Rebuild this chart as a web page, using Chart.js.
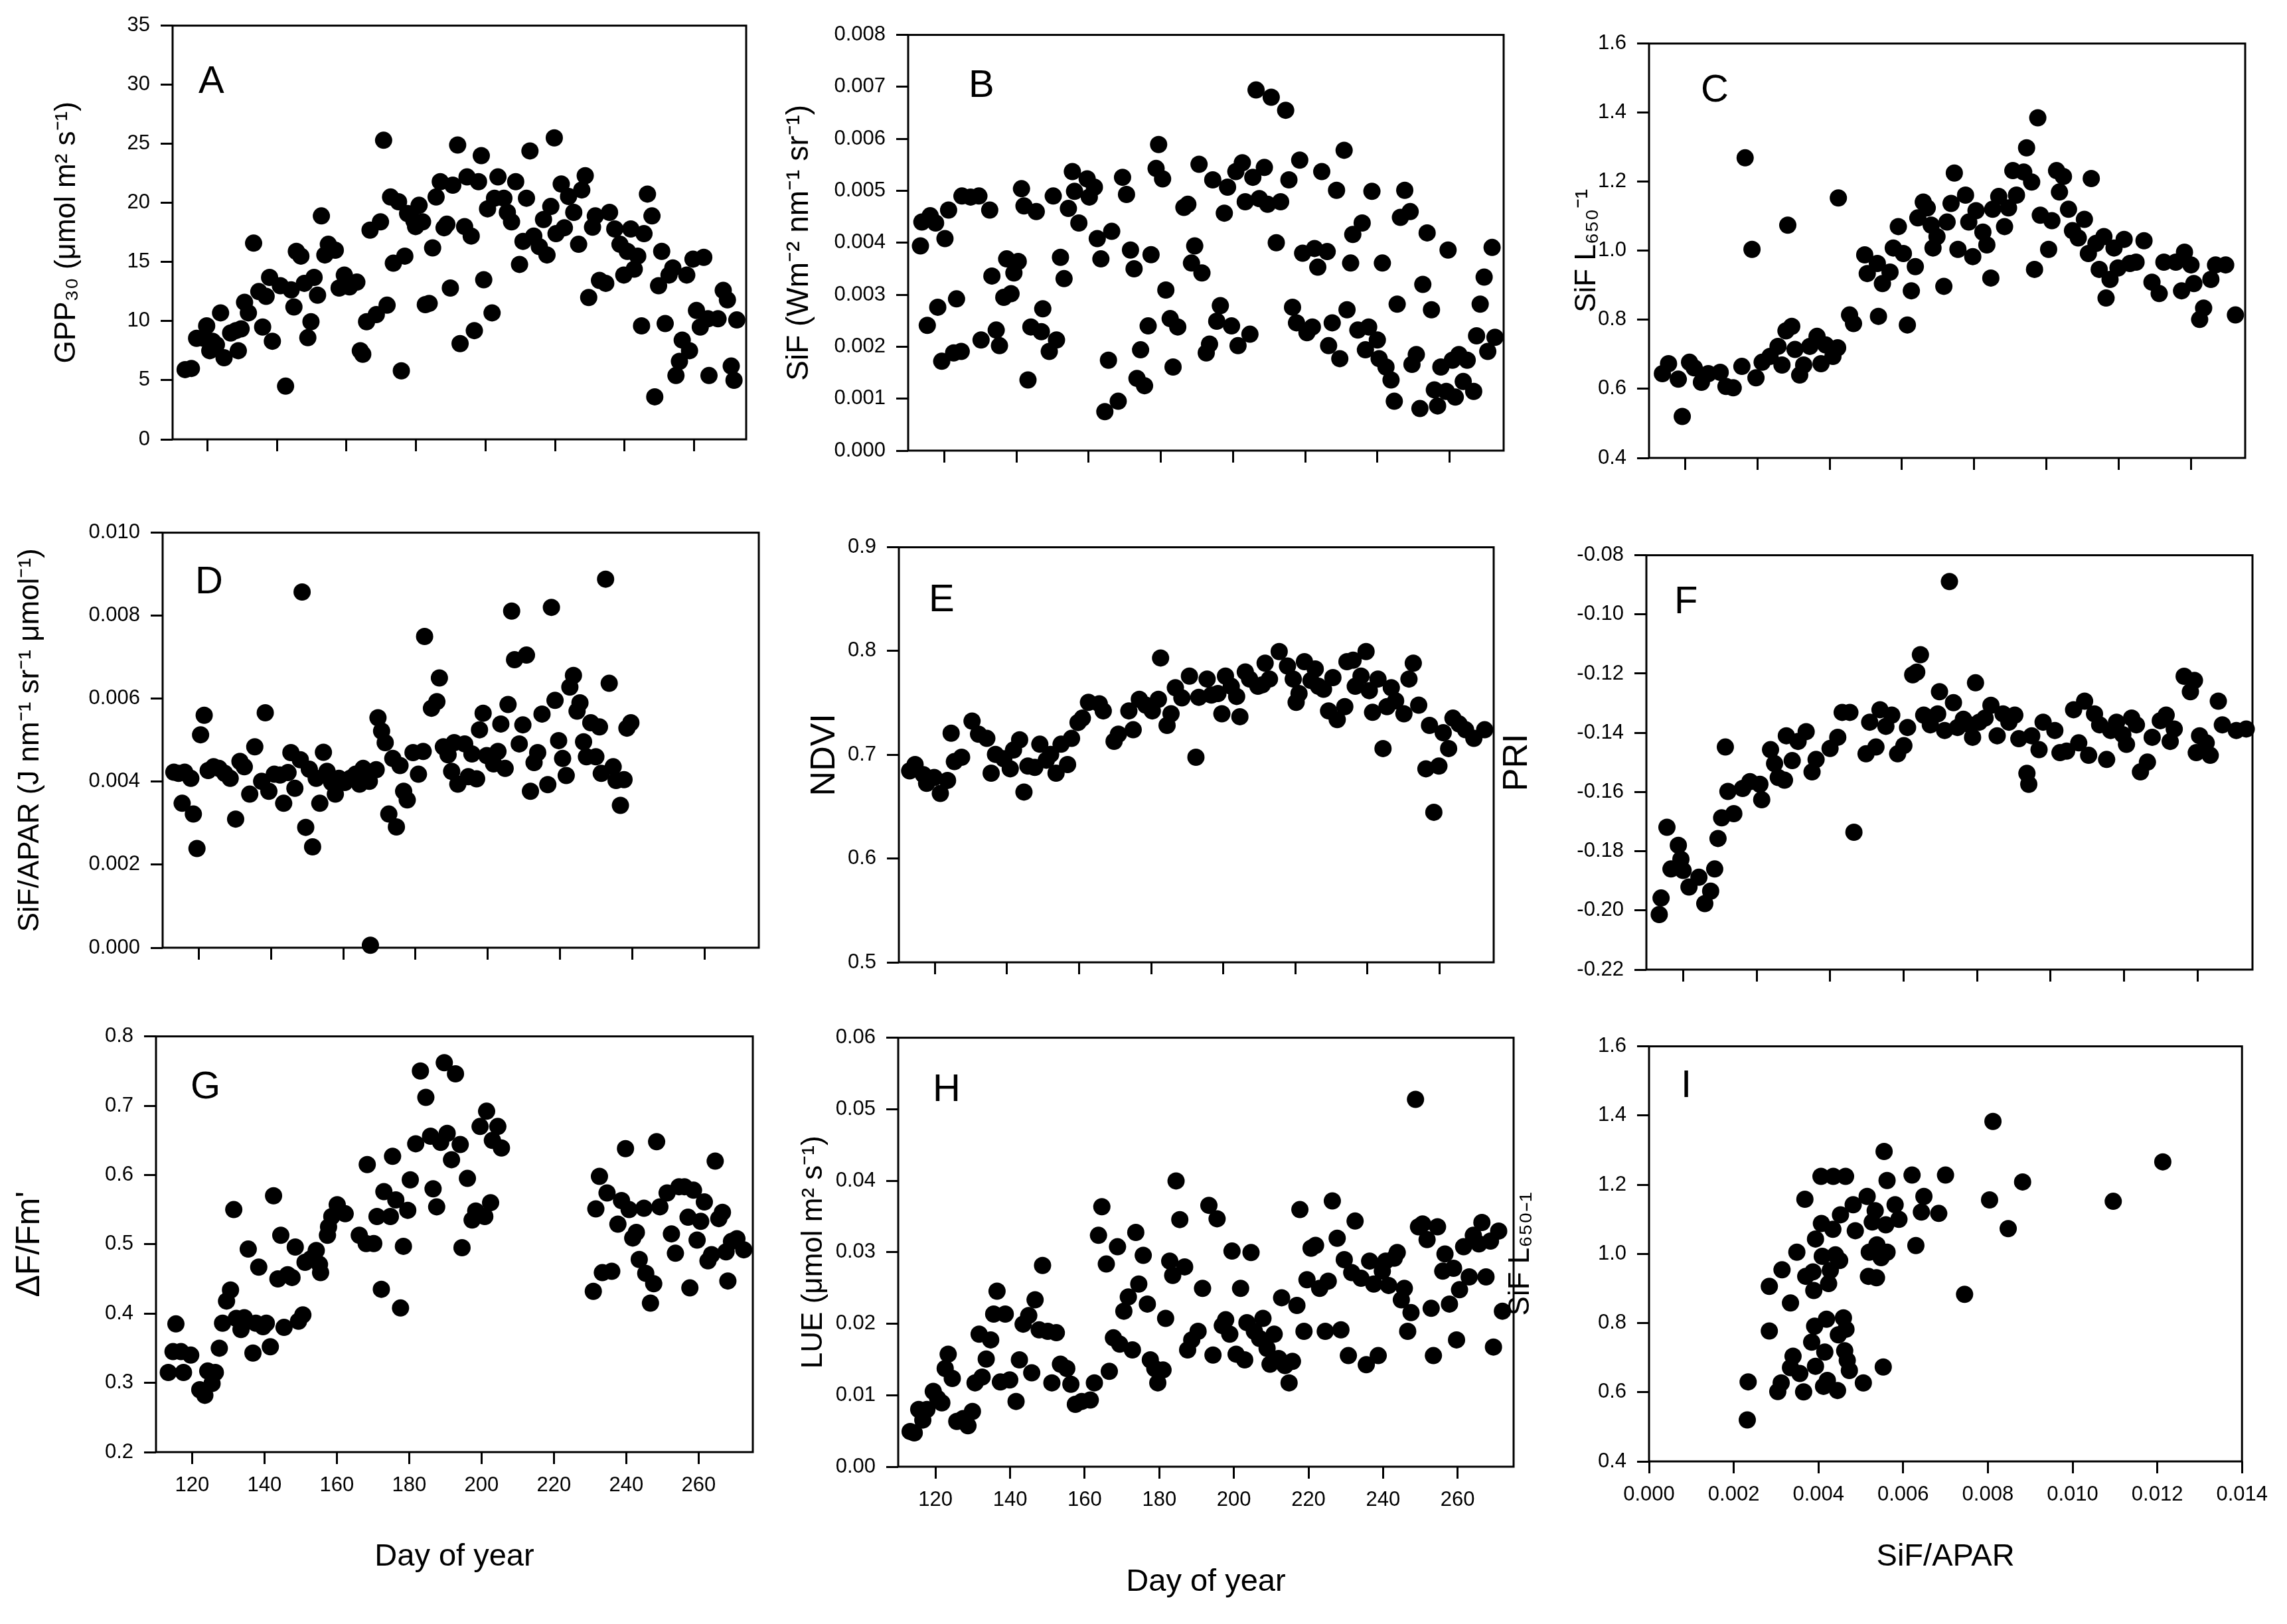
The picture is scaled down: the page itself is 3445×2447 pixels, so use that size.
<!DOCTYPE html>
<html>
<head>
<meta charset="utf-8">
<title>Seasonal SiF panels</title>
<script src="https://cdn.jsdelivr.net/npm/chart.js@4.4.1/dist/chart.umd.min.js"></script>
<style>
  html, body { margin: 0; padding: 0; background: #fff; }
  #page { position: relative; width: 3445px; height: 2447px; overflow: hidden; background: #fff; }
  #page canvas { position: absolute; }
</style>
</head>
<body>
<div id="page"></div>
<script>
// ── Data: [day of year, value] pairs ─────────────────────────────────

const gppA = [[113.6,5.9],[115.4,6.0],[116.9,8.55],[119.8,9.6],[119.0,8.55],[121.5,8.3],[122.6,8.0],[120.7,7.5],[123.8,10.7],[124.8,6.9],[126.7,9.0],[128.2,9.2],[128.9,7.5],[129.7,9.35],[130.7,11.6],[131.8,10.7],[133.3,16.6],[134.8,12.5],[135.9,9.5],[136.9,12.1],[137.9,13.7],[138.7,8.3],[141.0,13.0],[142.5,4.5],[144.1,12.65],[144.9,11.2],[145.6,15.9],[146.9,15.5],[147.9,13.2],[148.9,8.6],[149.8,9.95],[150.7,13.7],[151.7,12.2],[152.8,18.9],[153.8,15.6],[154.8,16.5],[156.8,16.0],[157.9,12.8],[159.4,13.9],[160.9,12.9],[163.0,13.3],[164.0,7.5],[164.7,7.2],[165.8,9.95],[166.8,17.7],[168.6,10.55],[169.8,18.4],[170.7,25.3],[171.7,11.35],[172.7,20.5],[173.5,14.9],[175.0,20.1],[175.8,5.8],[176.8,15.5],[177.6,19.1],[179.4,18.5],[179.9,18.0],[180.9,19.8],[181.9,18.4],[182.7,11.4],[183.8,11.5],[184.8,16.2],[185.8,20.5],[187.0,21.8],[188.1,17.9],[188.9,18.2],[189.9,12.8],[190.6,21.5],[192.0,24.9],[192.7,8.1],[194.0,18.0],[194.7,22.2],[195.9,17.2],[196.8,9.2],[198.0,21.8],[198.8,24.0],[199.5,13.5],[200.6,19.5],[201.9,10.7],[202.6,20.4],[203.6,22.2],[205.3,20.4],[206.3,19.2],[207.5,18.4],[208.7,21.8],[209.8,14.8],[210.8,16.75],[211.8,20.4],[212.8,24.4],[213.9,17.2],[215.5,16.3],[216.7,18.6],[217.7,15.6],[218.8,19.7],[219.8,25.5],[220.3,17.4],[221.8,21.6],[222.7,17.9],[223.9,20.55],[225.4,19.2],[226.8,16.5],[227.7,21.1],[228.7,22.3],[229.7,12.0],[230.8,17.95],[231.6,18.9],[232.8,13.45],[234.6,13.2],[235.7,19.2],[237.2,17.8],[238.7,16.5],[239.8,13.9],[240.8,15.9],[241.8,17.8],[242.8,14.4],[243.8,15.5],[244.9,9.6],[245.6,17.4],[246.6,20.75],[247.9,18.9],[248.7,3.6],[249.8,13.0],[250.7,15.9],[251.7,9.8],[252.8,13.9],[253.9,14.5],[254.8,5.4],[255.8,6.6],[256.6,8.4],[257.9,13.9],[258.7,7.5],[259.7,15.25],[260.7,10.9],[261.8,9.5],[262.8,15.4],[264.3,5.4],[264.0,10.2],[266.9,10.2],[268.4,12.6],[269.6,11.8],[272.3,10.1],[270.7,6.2],[271.5,5.0]];

const sifB = [[113.4,0.00394],[113.8,0.00440],[116.1,0.00452],[117.6,0.00438],[115.3,0.00241],[118.2,0.00276],[119.3,0.00172],[120.2,0.00408],[121.2,0.00463],[122.6,0.00188],[123.4,0.00292],[124.7,0.00191],[124.9,0.00490],[127.3,0.00488],[129.6,0.00490],[132.6,0.00463],[130.2,0.00213],[133.2,0.00336],[134.4,0.00232],[135.3,0.00202],[136.5,0.00295],[137.3,0.00369],[138.5,0.00302],[139.3,0.00342],[140.5,0.00364],[141.4,0.00504],[142.1,0.00471],[143.2,0.00136],[144.0,0.00238],[145.5,0.00460],[146.9,0.00229],[147.3,0.00273],[149.1,0.00191],[151.1,0.00213],[150.2,0.00490],[152.2,0.00372],[153.2,0.00331],[154.4,0.00466],[155.5,0.00537],[156.1,0.00499],[157.3,0.00438],[159.6,0.00523],[160.2,0.00488],[161.6,0.00507],[162.4,0.00408],[163.4,0.00369],[166.4,0.00422],[164.5,0.00075],[165.5,0.00174],[168.2,0.00095],[169.4,0.00526],[170.5,0.00493],[171.6,0.00386],[172.6,0.00350],[173.4,0.00139],[174.4,0.00194],[175.5,0.00125],[176.5,0.00240],[177.3,0.00377],[178.7,0.00543],[179.4,0.00589],[180.5,0.00523],[181.4,0.00309],[182.6,0.00254],[183.4,0.00161],[184.7,0.00238],[186.4,0.00468],[187.5,0.00474],[188.5,0.00361],[189.4,0.00394],[190.6,0.00551],[191.4,0.00342],[192.6,0.00188],[193.5,0.00205],[194.4,0.00521],[195.5,0.00249],[196.5,0.00279],[197.6,0.00457],[198.5,0.00507],[199.6,0.00240],[200.8,0.00537],[201.4,0.00202],[202.6,0.00554],[203.4,0.00479],[204.7,0.00224],[205.5,0.00526],[206.4,0.00694],[207.3,0.00485],[208.7,0.00545],[209.6,0.00474],[210.6,0.00680],[212.0,0.00400],[213.2,0.00479],[214.6,0.00655],[215.5,0.00521],[216.5,0.00276],[217.6,0.00246],[218.5,0.00559],[219.3,0.00380],[220.5,0.00227],[222.0,0.00238],[222.6,0.00389],[223.5,0.00353],[224.6,0.00537],[226.1,0.00383],[226.5,0.00202],[227.5,0.00246],[228.7,0.00501],[229.6,0.00177],[230.8,0.00578],[231.6,0.00271],[232.6,0.00361],[233.2,0.00416],[234.6,0.00232],[235.8,0.00438],[236.7,0.00194],[237.6,0.00238],[238.5,0.00499],[240.0,0.00213],[240.5,0.00177],[241.4,0.00361],[242.4,0.00161],[243.8,0.00136],[244.7,0.00095],[245.5,0.00282],[246.4,0.00449],[247.6,0.00501],[249.1,0.00460],[249.6,0.00166],[250.8,0.00185],[251.8,0.00081],[252.6,0.00320],[253.8,0.00419],[255.0,0.00271],[255.8,0.00117],[256.7,0.00086],[257.6,0.00161],[259.1,0.00114],[259.6,0.00386],[260.8,0.00174],[261.6,0.00103],[262.6,0.00185],[263.8,0.00133],[264.9,0.00174],[266.7,0.00114],[267.5,0.00221],[268.5,0.00282],[269.6,0.00334],[270.6,0.00191],[271.8,0.00391],[272.6,0.00218]];

const sifLC = [[113.7,0.644],[115.4,0.673],[118.1,0.628],[119.2,0.520],[121.2,0.677],[122.5,0.661],[124.5,0.619],[126.4,0.644],[129.7,0.648],[131.3,0.607],[133.3,0.603],[135.7,0.665],[136.6,1.269],[138.5,1.004],[139.6,0.632],[141.3,0.677],[143.5,0.694],[145.7,0.723],[146.8,0.669],[147.9,0.768],[149.5,0.781],[148.4,1.074],[150.4,0.714],[151.7,0.640],[152.8,0.669],[154.5,0.723],[156.5,0.752],[157.6,0.673],[158.9,0.727],[160.9,0.694],[162.2,0.719],[162.4,1.153],[165.5,0.814],[166.6,0.789],[169.7,0.988],[170.4,0.934],[173.2,0.963],[173.5,0.810],[174.6,0.905],[176.7,0.938],[177.6,1.008],[179.0,1.070],[180.4,0.992],[181.5,0.785],[182.6,0.884],[183.7,0.954],[184.4,1.095],[185.9,1.141],[187.0,1.124],[188.1,1.074],[188.6,1.008],[189.7,1.041],[191.6,0.897],[192.5,1.083],[193.6,1.137],[194.5,1.225],[195.5,1.004],[197.6,1.161],[198.5,1.083],[199.6,0.983],[200.5,1.116],[202.4,1.054],[203.5,1.017],[204.6,0.921],[205.1,1.120],[206.8,1.157],[208.4,1.070],[209.5,1.124],[210.7,1.232],[211.7,1.161],[213.7,1.228],[214.5,1.298],[215.9,1.199],[216.7,0.946],[217.6,1.385],[218.3,1.103],[220.6,1.004],[221.5,1.087],[222.8,1.232],[223.6,1.170],[224.7,1.215],[226.1,1.120],[227.2,1.058],[228.8,1.037],[230.5,1.091],[231.6,0.992],[232.4,1.209],[233.7,1.021],[234.6,0.946],[235.9,1.041],[236.5,0.863],[237.6,0.917],[238.7,1.008],[239.8,0.950],[241.5,1.033],[243.1,0.963],[244.8,0.967],[247.0,1.029],[249.2,0.909],[251.2,0.876],[252.5,0.967],[255.8,0.967],[257.4,0.884],[258.2,0.996],[260.0,0.959],[260.8,0.905],[262.4,0.801],[263.5,0.834],[265.5,0.917],[266.8,0.959],[269.6,0.959],[272.3,0.814]];

const sifApD = [[113.1,0.00423],[114.4,0.00420],[116.1,0.00423],[117.8,0.00408],[115.4,0.00348],[118.5,0.00322],[119.5,0.00239],[120.5,0.00513],[121.5,0.00560],[122.6,0.00427],[124.1,0.00436],[125.6,0.00432],[127.2,0.00420],[128.7,0.00408],[130.2,0.00310],[131.4,0.00449],[132.6,0.00436],[134.1,0.00370],[135.5,0.00484],[137.4,0.00401],[138.4,0.00566],[139.4,0.00377],[140.9,0.00418],[142.5,0.00416],[143.5,0.00348],[144.7,0.00422],[145.5,0.00470],[146.6,0.00384],[148.1,0.00453],[148.6,0.00857],[149.6,0.00290],[150.6,0.00430],[151.5,0.00243],[152.5,0.00408],[153.5,0.00348],[154.5,0.00471],[155.5,0.00425],[156.8,0.00398],[157.8,0.00370],[158.8,0.00408],[160.4,0.00398],[161.9,0.00408],[163.4,0.00418],[164.5,0.00394],[165.5,0.00432],[167.5,0.00006],[167.2,0.00401],[169.1,0.00429],[169.6,0.00554],[170.6,0.00522],[171.6,0.00494],[172.6,0.00322],[173.7,0.00456],[174.7,0.00291],[175.7,0.00439],[176.7,0.00377],[177.7,0.00356],[179.3,0.00470],[180.8,0.00418],[182.1,0.00473],[182.5,0.00750],[184.4,0.00577],[185.9,0.00593],[186.6,0.00650],[187.7,0.00484],[189.0,0.00465],[190.0,0.00425],[190.7,0.00494],[191.7,0.00394],[193.6,0.00491],[194.6,0.00412],[195.6,0.00467],[196.9,0.00407],[197.7,0.00525],[198.7,0.00565],[199.7,0.00463],[201.6,0.00443],[202.8,0.00473],[203.6,0.00539],[204.8,0.00432],[205.6,0.00586],[206.6,0.00811],[207.4,0.00694],[208.7,0.00491],[209.7,0.00537],[210.7,0.00705],[211.8,0.00377],[212.8,0.00446],[213.8,0.00470],[215.0,0.00563],[216.6,0.00393],[217.6,0.00820],[218.6,0.00596],[219.6,0.00499],[220.7,0.00456],[221.7,0.00415],[222.7,0.00628],[223.7,0.00656],[224.7,0.00570],[225.5,0.00590],[226.5,0.00496],[227.3,0.00460],[228.5,0.00542],[229.9,0.00460],[230.9,0.00532],[231.4,0.00420],[232.6,0.00888],[233.6,0.00637],[234.7,0.00436],[235.5,0.00403],[236.7,0.00343],[237.7,0.00405],[238.5,0.00529],[239.6,0.00542]];

const ndviE = [[113.0,0.6845],[114.5,0.6906],[116.8,0.6809],[117.7,0.6725],[119.8,0.6781],[121.5,0.6627],[123.5,0.6753],[124.5,0.7208],[125.4,0.6934],[127.4,0.6976],[130.3,0.7325],[132.1,0.7199],[134.4,0.7158],[135.6,0.6823],[136.8,0.7004],[139.1,0.6962],[140.9,0.6865],[141.8,0.7046],[143.5,0.7144],[144.7,0.6641],[145.8,0.6892],[147.7,0.6878],[149.1,0.7102],[150.9,0.6948],[152.1,0.7004],[153.6,0.6823],[155.0,0.7102],[156.8,0.6906],[157.9,0.7158],[159.7,0.7311],[160.9,0.7353],[162.6,0.7506],[165.6,0.7492],[166.7,0.7423],[169.7,0.7130],[170.9,0.7199],[173.8,0.7423],[175.0,0.7241],[176.7,0.7534],[178.5,0.7478],[180.3,0.7423],[182.0,0.7534],[182.6,0.7933],[184.4,0.7283],[185.5,0.7395],[186.7,0.7646],[188.5,0.7548],[190.6,0.7758],[192.4,0.6976],[193.2,0.7554],[195.5,0.7730],[196.7,0.7576],[198.5,0.7590],[199.6,0.7395],[200.6,0.7758],[202.2,0.7660],[203.7,0.7562],[204.6,0.7367],[206.1,0.7799],[207.3,0.7730],[209.6,0.7660],[210.8,0.7674],[211.6,0.7883],[212.8,0.7730],[215.5,0.7995],[217.8,0.7855],[219.4,0.7730],[220.2,0.7506],[221.0,0.7590],[222.5,0.7897],[224.3,0.7716],[225.5,0.7827],[226.4,0.7660],[227.8,0.7632],[229.2,0.7423],[230.4,0.7744],[231.6,0.7339],[233.7,0.7464],[234.3,0.7897],[236.0,0.7911],[236.6,0.7660],[238.2,0.7758],[239.6,0.7995],[240.5,0.7618],[241.4,0.7409],[242.9,0.7730],[244.3,0.7060],[245.4,0.7464],[246.6,0.7646],[247.8,0.7520],[250.1,0.7395],[251.5,0.7730],[252.7,0.7883],[254.2,0.7478],[256.2,0.6865],[257.2,0.7283],[258.4,0.6446],[259.8,0.6892],[261.0,0.7213],[262.5,0.7060],[263.7,0.7353],[265.4,0.7297],[267.2,0.7241],[269.5,0.7158],[272.5,0.7241]];

const priF = [[113.5,-0.2014],[114.0,-0.1958],[115.6,-0.1719],[118.7,-0.1780],[116.7,-0.1860],[119.4,-0.1827],[120.0,-0.1865],[121.6,-0.1921],[124.3,-0.1888],[125.9,-0.1977],[127.5,-0.1935],[128.6,-0.1860],[129.5,-0.1757],[130.5,-0.1687],[131.5,-0.1448],[132.2,-0.1598],[133.8,-0.1673],[136.2,-0.1588],[138.2,-0.1565],[140.9,-0.1574],[141.4,-0.1626],[143.8,-0.1457],[144.9,-0.1504],[145.9,-0.1551],[147.6,-0.1560],[148.1,-0.1410],[149.7,-0.1494],[151.3,-0.1429],[153.5,-0.1396],[155.1,-0.1532],[156.2,-0.1490],[160.0,-0.1453],[162.1,-0.1415],[163.3,-0.1331],[165.4,-0.1331],[166.5,-0.1736],[169.8,-0.1471],[170.8,-0.1364],[172.5,-0.1448],[173.6,-0.1322],[175.2,-0.1378],[176.8,-0.1340],[178.4,-0.1471],[180.1,-0.1443],[181.1,-0.1382],[182.5,-0.1204],[183.6,-0.1195],[184.6,-0.1136],[185.5,-0.1340],[187.3,-0.1373],[189.3,-0.1336],[189.8,-0.1261],[191.2,-0.1392],[192.5,-0.0889],[193.6,-0.1298],[194.7,-0.1382],[196.3,-0.1354],[198.1,-0.1373],[198.8,-0.1415],[199.6,-0.1231],[200.6,-0.1364],[202.2,-0.1350],[203.8,-0.1307],[205.5,-0.1410],[207.1,-0.1336],[208.7,-0.1364],[210.3,-0.1340],[211.4,-0.1420],[213.6,-0.1537],[214.1,-0.1574],[214.9,-0.1410],[216.9,-0.1457],[218.0,-0.1364],[221.2,-0.1392],[222.6,-0.1467],[224.4,-0.1462],[226.3,-0.1322],[227.7,-0.1434],[229.3,-0.1293],[230.4,-0.1476],[232.0,-0.1336],[233.4,-0.1373],[235.3,-0.1490],[236.4,-0.1392],[238.0,-0.1364],[239.7,-0.1406],[240.7,-0.1439],[242.1,-0.1350],[243.4,-0.1373],[244.5,-0.1532],[246.4,-0.1499],[247.7,-0.1415],[249.9,-0.1359],[251.5,-0.1340],[252.6,-0.1429],[253.7,-0.1387],[256.4,-0.1209],[258.1,-0.1261],[259.2,-0.1223],[259.7,-0.1467],[260.6,-0.1410],[262.4,-0.1434],[263.5,-0.1476],[265.7,-0.1293],[266.8,-0.1373],[270.6,-0.1392],[273.3,-0.1387]];

const phiG = [[113.4,0.315],[114.7,0.345],[115.5,0.385],[116.9,0.345],[117.6,0.315],[119.6,0.340],[122.1,0.290],[123.5,0.282],[124.3,0.317],[125.5,0.299],[126.4,0.315],[127.5,0.350],[128.4,0.386],[129.5,0.418],[130.6,0.434],[131.5,0.550],[132.2,0.393],[133.5,0.377],[134.4,0.394],[135.5,0.493],[136.8,0.343],[137.6,0.386],[138.4,0.467],[139.6,0.381],[140.5,0.386],[141.6,0.352],[142.5,0.570],[143.7,0.450],[144.5,0.513],[145.4,0.380],[146.4,0.456],[147.6,0.452],[148.5,0.496],[149.4,0.389],[150.6,0.398],[151.2,0.474],[152.8,0.479],[154.3,0.491],[155.2,0.471],[155.5,0.459],[157.4,0.513],[157.7,0.525],[158.6,0.540],[160.1,0.557],[162.3,0.544],[166.2,0.513],[168.1,0.501],[168.4,0.615],[170.2,0.501],[171.1,0.540],[172.3,0.435],[173.0,0.576],[174.8,0.540],[175.4,0.627],[176.3,0.564],[177.6,0.408],[178.4,0.497],[179.6,0.549],[180.3,0.593],[181.8,0.645],[183.1,0.750],[184.6,0.712],[185.9,0.656],[186.6,0.580],[187.6,0.554],[188.7,0.647],[189.7,0.762],[190.5,0.660],[191.7,0.622],[192.8,0.746],[194.1,0.644],[194.6,0.495],[196.1,0.595],[197.4,0.535],[198.4,0.548],[199.6,0.670],[200.9,0.540],[201.4,0.692],[202.5,0.560],[203.0,0.650],[204.5,0.670],[205.5,0.639],[230.9,0.432],[231.6,0.551],[232.6,0.598],[233.4,0.459],[234.7,0.574],[236.0,0.461],[237.7,0.529],[238.7,0.563],[239.8,0.638],[240.8,0.550],[241.8,0.509],[242.8,0.517],[243.6,0.478],[244.9,0.552],[245.4,0.458],[246.7,0.415],[247.6,0.443],[248.4,0.648],[249.3,0.554],[251.3,0.574],[252.5,0.515],[253.6,0.487],[254.6,0.583],[256.1,0.583],[257.1,0.539],[257.6,0.437],[258.6,0.578],[259.6,0.506],[260.6,0.533],[261.6,0.561],[262.6,0.476],[263.6,0.485],[264.6,0.620],[265.6,0.537],[266.6,0.546],[267.6,0.489],[268.1,0.447],[269.1,0.504],[270.6,0.508],[272.5,0.492]];

const lueH = [[113.2,0.00493],[114.3,0.00473],[115.5,0.00801],[116.6,0.00653],[117.7,0.00801],[119.4,0.01053],[120.6,0.00953],[121.7,0.00893],[122.6,0.01374],[123.4,0.01574],[124.5,0.01234],[125.7,0.00633],[127.4,0.00673],[128.7,0.00573],[129.9,0.00773],[130.6,0.01173],[131.7,0.01854],[132.5,0.01254],[133.6,0.01506],[134.8,0.01774],[135.6,0.02135],[136.5,0.02455],[137.4,0.01185],[138.7,0.02135],[139.9,0.01214],[141.6,0.00913],[142.5,0.01494],[143.5,0.01994],[145.0,0.02115],[145.8,0.01314],[146.7,0.02335],[147.8,0.01914],[148.7,0.02815],[150.1,0.01894],[151.2,0.01173],[152.4,0.01874],[153.5,0.01434],[155.2,0.01374],[156.3,0.01153],[157.5,0.00873],[159.2,0.00913],[161.5,0.00933],[162.6,0.01173],[163.7,0.03236],[164.6,0.03636],[165.8,0.02835],[166.6,0.01334],[167.7,0.01802],[168.8,0.03076],[169.4,0.01714],[170.5,0.02175],[171.7,0.02375],[172.8,0.01634],[173.7,0.03276],[174.5,0.02555],[175.7,0.02956],[176.8,0.02275],[177.6,0.01494],[178.8,0.01374],[179.6,0.01173],[181.0,0.01354],[181.7,0.02075],[182.8,0.02876],[183.6,0.02675],[184.5,0.03997],[185.5,0.03456],[186.8,0.02795],[187.6,0.01634],[188.7,0.01774],[190.4,0.01894],[191.6,0.02495],[193.3,0.03656],[194.4,0.01562],[195.5,0.03468],[196.9,0.01974],[197.8,0.02055],[198.9,0.01854],[199.5,0.03016],[200.6,0.01574],[201.8,0.02495],[202.9,0.01494],[203.5,0.02015],[204.6,0.02996],[205.5,0.01894],[206.9,0.01794],[207.8,0.02075],[208.9,0.01654],[209.7,0.01434],[210.8,0.01854],[212.0,0.01514],[212.8,0.02363],[213.7,0.01414],[214.8,0.01173],[215.7,0.01474],[216.9,0.02255],[217.7,0.03596],[218.8,0.01894],[219.6,0.02615],[220.7,0.03056],[221.9,0.03096],[223.0,0.02495],[224.5,0.01894],[225.3,0.02595],[226.4,0.03717],[227.7,0.03196],[228.7,0.01914],[229.6,0.02896],[230.7,0.01554],[231.6,0.02715],[232.5,0.03436],[234.1,0.02635],[235.5,0.01426],[236.4,0.02876],[237.5,0.02555],[238.7,0.01554],[239.8,0.02735],[240.7,0.02876],[241.5,0.02535],[243.0,0.02916],[243.8,0.02996],[244.9,0.02335],[245.7,0.02495],[246.6,0.01894],[247.5,0.02155],[248.7,0.05138],[249.5,0.03356],[250.6,0.03396],[251.8,0.03176],[252.9,0.02215],[253.5,0.01554],[254.6,0.03356],[256.0,0.02735],[256.6,0.02976],[257.8,0.02275],[258.9,0.02775],[259.7,0.01774],[260.5,0.02475],[261.6,0.03076],[263.1,0.02655],[264.2,0.03236],[265.7,0.03116],[266.5,0.03416],[267.6,0.02655],[268.8,0.03156],[269.6,0.01674],[271.0,0.03296],[272.0,0.02175]];

// panel I: [SiF/APAR, SiF L650-1]
const sifRatioI = [[0.00232,0.520],[0.00234,0.630],[0.00284,0.906],[0.00284,0.777],[0.00304,0.602],[0.00312,0.627],[0.00314,0.954],[0.00334,0.858],[0.00340,0.704],[0.00334,0.671],[0.00349,1.005],[0.00356,0.654],[0.00365,0.601],[0.00368,1.158],[0.00370,0.935],[0.00384,0.745],[0.00387,0.948],[0.00389,0.894],[0.00391,0.791],[0.00393,0.675],[0.00393,1.043],[0.00406,1.224],[0.00407,1.088],[0.00409,0.993],[0.00412,0.617],[0.00415,0.716],[0.00419,0.811],[0.00421,0.634],[0.00424,0.914],[0.00428,0.952],[0.00434,1.071],[0.00435,1.224],[0.00440,0.997],[0.00445,0.605],[0.00447,0.766],[0.00450,0.981],[0.00452,1.113],[0.00459,0.815],[0.00462,0.720],[0.00464,1.224],[0.00465,0.782],[0.00468,0.692],[0.00473,0.663],[0.00482,1.142],[0.00487,1.067],[0.00506,0.627],[0.00515,1.166],[0.00518,0.935],[0.00520,1.005],[0.00527,1.092],[0.00534,1.125],[0.00537,0.931],[0.00538,1.026],[0.00548,0.989],[0.00553,0.673],[0.00555,1.296],[0.00559,1.084],[0.00562,1.212],[0.00562,1.005],[0.00581,1.142],[0.00590,1.100],[0.00621,1.228],[0.00630,1.024],[0.00643,1.121],[0.00649,1.166],[0.00684,1.117],[0.00700,1.228],[0.00745,0.883],[0.00804,1.156],[0.00812,1.383],[0.00848,1.073],[0.00882,1.208],[0.01096,1.152],[0.01213,1.266]];

// ── Tick values ───────────────────────────────────────────────────────

const doyTicks   = [120, 140, 160, 180, 200, 220, 240, 260];
const ticksGpp   = [0, 5, 10, 15, 20, 25, 30, 35];
const ticksSif   = [0, 0.001, 0.002, 0.003, 0.004, 0.005, 0.006, 0.007, 0.008];
const ticksSifL  = [0.4, 0.6, 0.8, 1.0, 1.2, 1.4, 1.6];
const ticksSifAp = [0, 0.002, 0.004, 0.006, 0.008, 0.010];
const ticksNdvi  = [0.5, 0.6, 0.7, 0.8, 0.9];
const ticksPri   = [-0.22, -0.20, -0.18, -0.16, -0.14, -0.12, -0.10, -0.08];
const ticksPhi   = [0.2, 0.3, 0.4, 0.5, 0.6, 0.7, 0.8];
const ticksLue   = [0, 0.01, 0.02, 0.03, 0.04, 0.05, 0.06];
const ticksRatio = [0, 0.002, 0.004, 0.006, 0.008, 0.010, 0.012, 0.014];

// ── Styling ──────────────────────────────────────────────────────────

const FONT        = "'Liberation Sans', Arial, Helvetica, sans-serif";
const TICK_SIZE   = 31;
const TITLE_SIZE  = 44;
const XTITLE_SIZE = 47;
const LETTER_SIZE = 58;
const PAD_T = 30;
const PAD_R = 50;

// box = [left, top, right, bottom] of the plot frame on the page
const PANELS = [
  { id: 'A', data: gppA,      xr: [110, 275], xt: doyTicks, yt: ticksGpp,   yDec: 0,
    yTitle: 'GPP\u2083\u2080 (\u03bcmol m\u00b2 s\u207b\u00b9)',
    box: [260, 34, 1124, 662],    tx: 100,  letter: [39, 101] },
  { id: 'B', data: sifB,      xr: [110, 275], xt: doyTicks, yt: ticksSif,   yDec: 3,
    yTitle: 'SiF (Wm\u207b\u00b2 nm\u207b\u00b9 sr\u207b\u00b9)', ts: 46,
    box: [1368, 48, 2265, 679],   tx: 1205, letter: [91, 93] },
  { id: 'C', data: sifLC,     xr: [110, 275], xt: doyTicks, yt: ticksSifL,  yDec: 1,
    yTitle: 'SiF L\u2086\u2085\u2080\u207b\u00b9',
    box: [2484, 61, 3382, 690],   tx: 2390, letter: [78, 87] },
  { id: 'D', data: sifApD,    xr: [110, 275], xt: doyTicks, yt: ticksSifAp, yDec: 3,
    yTitle: 'SiF/APAR (J nm\u207b\u00b9 sr\u207b\u00b9 \u03bcmol\u207b\u00b9)',
    box: [245, 798, 1143, 1428],  tx: 45,   letter: [49, 91] },
  { id: 'E', data: ndviE,     xr: [110, 275], xt: doyTicks, yt: ticksNdvi,  yDec: 1,
    yTitle: 'NDVI', ts: 52,
    box: [1354, 820, 2250, 1450], tx: 1242, letter: [45, 96] },
  { id: 'F', data: priF,      xr: [110, 275], xt: doyTicks, yt: ticksPri,   yDec: 2,
    yTitle: 'PRI', ts: 52,
    box: [2480, 832, 3393, 1461], tx: 2285, letter: [42, 87] },
  { id: 'G', data: phiG,      xr: [110, 275], xt: doyTicks, yt: ticksPhi,   yDec: 1,
    yTitle: '\u0394F/Fm\'', ts: 50, xTitle: 'Day of year', xDec: 0, ty: 2346,
    box: [235, 1557, 1134, 2188], tx: 45,   letter: [52, 93] },
  { id: 'H', data: lueH,      xr: [110, 275], xt: doyTicks, yt: ticksLue,   yDec: 2,
    yTitle: 'LUE (\u03bcmol m\u00b2 s\u207b\u00b9)', xTitle: 'Day of year', xDec: 0, ty: 2384,
    box: [1353, 1559, 2280, 2210], tx: 1225, letter: [52, 95] },
  { id: 'I', data: sifRatioI, xr: [0, 0.014],  xt: ticksRatio, yt: ticksSifL, yDec: 1,
    yTitle: 'SiF L\u2086\u2085\u2080\u208b\u2081', xTitle: 'SiF/APAR', xDec: 3, ty: 2346,
    box: [2484, 1572, 3380, 2202], tx: 2290, letter: [48, 76] },
];

// ── Frame + panel letter ─────────────────────────────────────────────

const panelFrame = {
  id: 'panelFrame',
  afterDraw(chart, args, opts) {
    const { ctx, chartArea: a } = chart;
    ctx.save();
    ctx.lineWidth = 3;
    ctx.strokeStyle = '#000';
    ctx.strokeRect(a.left, a.top, a.right - a.left, a.bottom - a.top);
    ctx.fillStyle = '#000';
    ctx.font = `${LETTER_SIZE}px ${FONT}`;
    ctx.textBaseline = 'alphabetic';
    ctx.fillText(opts.letter, a.left + opts.dx, a.top + opts.dy);
    ctx.restore();
  }
};

const tickGrid = {
  display: true, drawOnChartArea: false, drawTicks: true,
  tickLength: 18, tickWidth: 3, tickColor: '#000', lineWidth: 3, color: '#000'
};

function buildPanel(p, page) {
  const [L, T, R, B] = p.box;
  const ts     = p.ts || TITLE_SIZE;
  const left   = Math.round(p.tx - 0.6 * ts);
  const top    = T - PAD_T;
  const hx     = p.xTitle ? Math.round(p.ty + 0.6 * XTITLE_SIZE - B) : 40;
  const width  = R + PAD_R - left;
  const height = B + hx - top;

  const cv = document.createElement('canvas');
  cv.width = width;
  cv.height = height;
  cv.style.left = left + 'px';
  cv.style.top = top + 'px';
  cv.style.width = width + 'px';
  cv.style.height = height + 'px';
  page.appendChild(cv);

  new Chart(cv, {
    type: 'scatter',
    data: {
      datasets: [{
        data: p.data.map(([x, y]) => ({ x, y })),
        backgroundColor: '#000',
        borderWidth: 0,
        pointRadius: 13,
        pointHoverRadius: 13,
        clip: false
      }]
    },
    options: {
      responsive: false,
      animation: false,
      devicePixelRatio: 1,
      events: [],
      layout: { padding: { left: 0, top: PAD_T, right: PAD_R, bottom: 0 } },
      plugins: {
        legend: { display: false },
        tooltip: { enabled: false },
        panelFrame: { letter: p.id, dx: p.letter[0], dy: p.letter[1] }
      },
      scales: {
        x: {
          type: 'linear',
          min: p.xr[0], max: p.xr[1],
          afterBuildTicks: s => { s.ticks = p.xt.map(v => ({ value: v })); },
          afterFit: s => { s.height = hx; },
          grid: tickGrid,
          border: { display: false },
          ticks: {
            display: !!p.xTitle,
            autoSkip: false, maxRotation: 0,
            color: '#000', padding: 14,
            font: { family: FONT, size: TICK_SIZE },
            callback: v => Number(v).toFixed(p.xDec || 0)
          },
          title: {
            display: !!p.xTitle, text: p.xTitle || '', color: '#000', padding: 0,
            font: { family: FONT, size: XTITLE_SIZE }
          }
        },
        y: {
          type: 'linear',
          min: p.yt[0], max: p.yt[p.yt.length - 1],
          afterBuildTicks: s => { s.ticks = p.yt.map(v => ({ value: v })); },
          afterFit: s => { s.width = L - left; },
          grid: tickGrid,
          border: { display: false },
          ticks: {
            autoSkip: false,
            color: '#000', padding: 16,
            font: { family: FONT, size: TICK_SIZE },
            callback: v => Number(v).toFixed(p.yDec)
          },
          title: {
            display: true, text: p.yTitle, color: '#000', padding: 0,
            font: { family: FONT, size: ts }
          }
        }
      }
    },
    plugins: [panelFrame]
  });
}

const page = document.getElementById('page');
PANELS.forEach(p => buildPanel(p, page));
</script>
</body>
</html>
